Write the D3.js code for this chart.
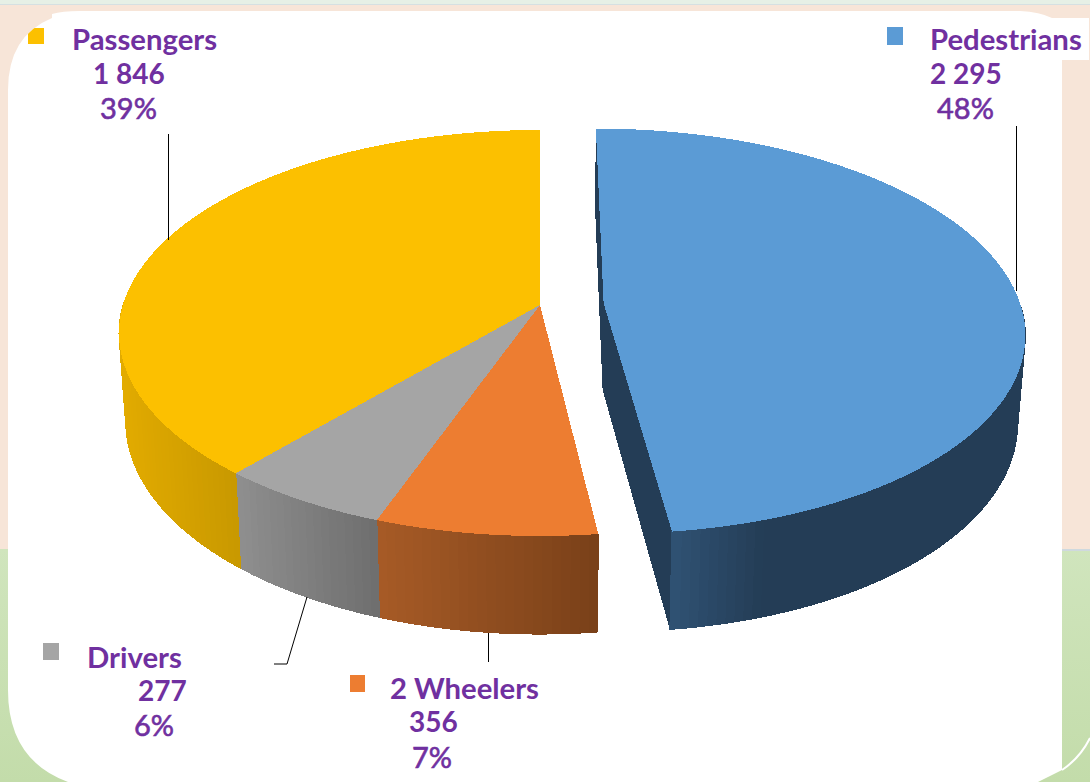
<!DOCTYPE html>
<html>
<head>
<meta charset="utf-8">
<script src="https://cdn.jsdelivr.net/npm/d3@7"></script>
<style>
html, body { margin: 0; padding: 0; background: #fff; }
svg { display: block; }
text { font-family: Lato, "Open Sans", sans-serif; fill: #7030a0; }
</style>
</head>
<body>
<div id="chart"></div>
<script>
// Chart values, clockwise from the top of the pie
var categories = ["Pedestrians", "2 Wheelers", "Drivers", "Passengers"];
var values = [2295, 356, 277, 1846];
var exploded = [0.153, 0, 0, 0];

var top_colors = ["#5b9bd5", "#ed7d31", "#a5a5a5", "#fcc000"];
var side_colors = [
    ["#2f5172", "#243d56", "#243d56", "#243d56", "#243d56"],
    ["#a65a26", "#7a4119"],
    ["#8e8e8e", "#6f6f6f"],
    ["#e2ab00", "#c99900"]
];
var cut_colors = ["#243d56", "#7a4119", "#6f6f6f", "#c99900"];

var width = 1090, height = 782;

var svg = d3.select("#chart").append("svg")
    .attr("width", width)
    .attr("height", height);

// ---- Background slide and white card ----
var defs = svg.append("defs");
var green_grad = defs.append("linearGradient")
    .attr("id", "green_grad")
    .attr("x1", 0).attr("y1", 0).attr("x2", 0).attr("y2", 1);
green_grad.append("stop").attr("offset", 0).attr("stop-color", "#d0e5bd");
green_grad.append("stop").attr("offset", 1).attr("stop-color", "#c3dcaa");

svg.append("rect").attr("width", width).attr("height", height).attr("fill", "#f7e5d8");
svg.append("rect").attr("width", width).attr("height", 4).attr("fill", "#e6f0e6");
svg.append("rect").attr("y", 4).attr("width", width).attr("height", 1).attr("fill", "#d5e0e2");
svg.append("rect").attr("y", 549).attr("width", width).attr("height", height - 549).attr("fill", "url(#green_grad)");
svg.append("rect").attr("x", 1062).attr("y", 549).attr("width", 28).attr("height", 2).attr("fill", "#cfd9de");

var card_path = "M8,90 Q8,36 52,18 L52,14 Q62,11 80,11 L1020,11 Q1040,12 1052,18 L1089,18 L1089,60 L1062,60 L1062,770 Q1050,776 1038,782 L68,782 Q8,760 8,690 Z";
svg.append("path").attr("d", card_path).attr("fill", "#fff");
svg.append("path")
    .attr("d", "M1090,738 Q1080,758 1062,770")
    .attr("fill", "none")
    .attr("stroke", "#fff")
    .attr("stroke-width", 2);

defs.append("clipPath").attr("id", "card_clip").append("path").attr("d", card_path);

// ---- Pie geometry: unit circle seen through a perspective ----
var center_x = 540, center_y = 333;
var radius_x = 421, radius_y = 203;
var persp = 0.138;

var sx = d3.scaleLinear().domain([-1, 1]).range([-radius_x * Math.sqrt(1 - persp * persp), radius_x * Math.sqrt(1 - persp * persp)]);
var sy = d3.scaleLinear().domain([-1, 1]).range([-radius_y, radius_y]);

// Base rim is the top rim pulled towards the middle and pushed down
var depth = d3.scaleLinear().domain([473, 535]).range([95, 98]);
var converge = 0.016;

function project(theta, r, shift, shift_dir) {
    var x = r * Math.sin(theta) + shift * Math.sin(shift_dir);
    var y = -r * Math.cos(theta) - shift * Math.cos(shift_dir);
    var w = 1 - persp * y;
    return [center_x + sx(x) / w, center_y + sy(y - persp) / w];
}

function drop(p) {
    return [p[0] + (center_x - p[0]) * converge, p[1] + depth(p[1])];
}

var line = d3.line();
var pie = d3.pie().sort(null).value(function(d) { return d; });
var arcs = pie(values);

// Sampled rim plus the apex of each slice
var shapes = arcs.map(function(a, i) {
    var mid = (a.startAngle + a.endAngle) / 2;
    var n = Math.ceil((a.endAngle - a.startAngle) / 0.02);
    var angles = d3.range(n + 1).map(function(j) {
        return a.startAngle + (a.endAngle - a.startAngle) * j / n;
    });
    return {
        index: i,
        angles: angles,
        rim: angles.map(function(t) { return project(t, 1, exploded[i], mid); }),
        apex: project(0, 0, exploded[i], mid)
    };
});

var slices = svg.append("g").attr("shape-rendering", "crispEdges");

// Cut faces first, outer walls over them, tops last
shapes.forEach(function(s) {
    [s.rim[0], s.rim[s.rim.length - 1]].forEach(function(p) {
        slices.append("path")
            .attr("d", line([s.apex, p, drop(p), drop(s.apex)]) + "Z")
            .attr("fill", cut_colors[s.index]);
    });
});

shapes.forEach(function(s) {
    // Only the part of the wall facing us, drawn in thin strips
    var front = d3.pairs(s.rim).filter(function(d, j) {
        return Math.cos(s.angles[j]) < 0;
    });
    var xs = d3.extent(front, function(d) { return d[0][0]; });
    var shades = side_colors[s.index];
    var shade = d3.scaleLinear()
        .domain(d3.range(shades.length).map(function(k) { return xs[0] + (xs[1] - xs[0]) * k / (shades.length - 1); }))
        .range(shades);

    slices.append("g").selectAll("path")
        .data(front)
        .join("path")
        .attr("d", function(d) { return line([d[0], d[1], drop(d[1]), drop(d[0])]) + "Z"; })
        .attr("fill", function(d) { return shade(d[0][0]); })
        .attr("stroke", function(d) { return shade(d[0][0]); })
        .attr("stroke-width", 1);
});

shapes.forEach(function(s) {
    slices.append("path")
        .attr("d", line([s.apex].concat(s.rim)) + "Z")
        .attr("fill", top_colors[s.index]);
});

// ---- Leader lines ----
var leaders = [
    [[1016.5, 126], [1016.5, 291]],
    [[488.5, 633], [488.5, 662]],
    [[307, 597], [287, 664], [274, 664]],
    [[168.5, 134], [168.5, 240]]
];
svg.selectAll(".leader")
    .data(leaders)
    .join("path")
    .attr("class", "leader")
    .attr("d", function(d) { return line(d); })
    .attr("fill", "none")
    .attr("stroke", "#000")
    .attr("stroke-width", 1);

// ---- Labels ----
var total = d3.sum(values);
var fmt_value = d3.formatLocale({ decimal: ".", thousands: " ", grouping: [3], currency: ["", ""] }).format(",");
var fmt_pct = d3.format(".0%");

var label_pos = [
    { key: [887, 27, 16, 18], name: [930, 50], val: [930, 84], pct: [937, 119] },
    { key: [350, 675, 15, 17], name: [390, 699], val: [409, 732], pct: [412, 768] },
    { key: [43, 643, 16, 17], name: [87, 668], val: [138, 701], pct: [134, 736] },
    { key: [28, 28, 16, 16], name: [72, 50], val: [93, 84], pct: [100, 119] }
];

var labels = svg.append("g");
categories.forEach(function(name, i) {
    var pos = label_pos[i];
    labels.append("rect")
        .attr("x", pos.key[0]).attr("y", pos.key[1])
        .attr("width", pos.key[2]).attr("height", pos.key[3])
        .attr("fill", top_colors[i])
        .attr("clip-path", "url(#card_clip)");
    labels.append("text")
        .attr("x", pos.name[0]).attr("y", pos.name[1])
        .attr("font-size", 29.3).attr("font-weight", 700)
        .text(name);
    labels.append("text")
        .attr("x", pos.val[0]).attr("y", pos.val[1])
        .attr("font-size", 28).attr("font-weight", 700)
        .text(fmt_value(values[i]));
    labels.append("text")
        .attr("x", pos.pct[0]).attr("y", pos.pct[1])
        .attr("font-size", 29).attr("font-weight", 400)
        .attr("stroke", "#7030a0")
        .attr("stroke-width", 0.6)
        .text(fmt_pct(values[i] / total));
});
</script>
</body>
</html>
